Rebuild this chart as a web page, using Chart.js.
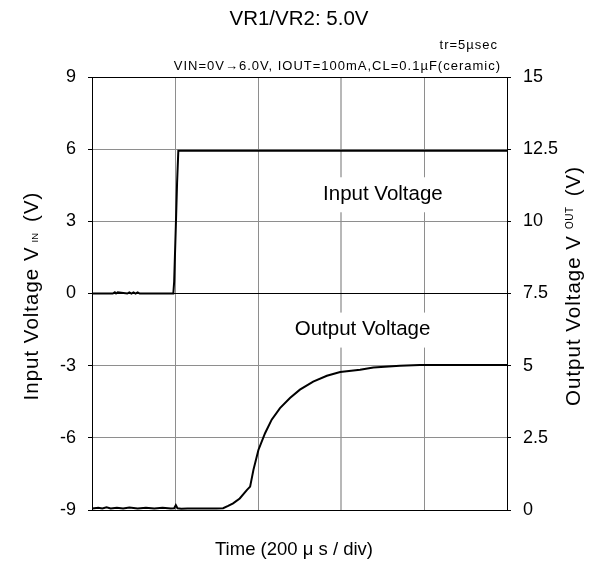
<!DOCTYPE html>
<html>
<head>
<meta charset="utf-8">
<script src="https://cdn.jsdelivr.net/npm/chart.js@4.4.1/dist/chart.umd.min.js"></script>
<style>
    body { margin: 0; background: #fff; }
    #wrap { width: 602px; height: 563px; position: relative; }
</style>
</head>
<body>
<div id="wrap"><canvas id="myChart"></canvas></div>
<script>
// time in microseconds, 200 us per division
const inputTime = [0, 50, 55, 58, 62, 85, 90, 95, 100, 105, 110, 115, 122, 196, 198, 202, 205, 208, 300, 500, 700, 1000];
const inputVolt = [0, 0, 0.05, 0, 0.05, 0, 0.05, 0, 0.05, 0, 0.05, 0, 0, 0, 0.5, 2.8, 4.6, 5.93, 5.93, 5.93, 5.93, 5.93];

const outputTime = [0, 15, 25, 35, 45, 60, 75, 90, 110, 130, 150, 170, 190, 198, 202, 206, 215, 230, 300, 316, 328, 340, 356, 373, 381, 389, 401, 417, 433, 453, 477, 501, 533, 566, 598, 646, 678, 742, 790, 850, 1000];
const outputVolt = [0.05, 0.08, 0.05, 0.09, 0.05, 0.08, 0.05, 0.09, 0.05, 0.08, 0.05, 0.08, 0.05, 0.06, 0.17, 0.06, 0.04, 0.05, 0.05, 0.06, 0.14, 0.23, 0.4, 0.69, 0.81, 1.39, 2.08, 2.66, 3.13, 3.53, 3.88, 4.17, 4.45, 4.65, 4.78, 4.86, 4.94, 5.0, 5.02, 5.02, 5.02];

const leftTicks = [-9, 9, 3];     // min, max, step (V IN)
const rightTicks = [0, 15, 2.5];  // min, max, step (V OUT)
const timeTicks = [0, 1000, 200];

const FONT = '"Liberation Sans", Arial, sans-serif';

function toPoints(xs, ys) {
    return xs.map((x, i) => ({ x: x, y: ys[i] }));
}

// draws a rotated string made of pieces with different sizes
function drawPieces(ctx, pieces, cx, cy) {
    ctx.save();
    ctx.translate(cx, cy);
    ctx.rotate(-Math.PI / 2);
    let total = 0;
    pieces.forEach(p => {
        ctx.font = p.size + 'px ' + FONT;
        ctx.letterSpacing = (p.ls || 0) + 'px';
        p.w = p.text ? ctx.measureText(p.text).width : p.gap;
        total += p.w;
    });
    let x = -total / 2;
    ctx.textAlign = 'left';
    ctx.textBaseline = 'alphabetic';
    pieces.forEach(p => {
        if (p.text) {
            ctx.font = p.size + 'px ' + FONT;
            ctx.letterSpacing = (p.ls || 0) + 'px';
            ctx.fillText(p.text, x, p.dy || 0);
        }
        x += p.w;
    });
    ctx.restore();
}

function boxedText(ctx, text, x, y) {
    const w = ctx.measureText(text).width;
    ctx.fillStyle = '#fff';
    ctx.fillRect(x - w / 2 - 4, y - 17, w + 8, 35);
    ctx.fillStyle = '#000';
    ctx.fillText(text, x, y);
}

const textPlugin = {
    id: 'texts',
    afterDraw(chart) {
        const ctx = chart.ctx;
        const area = chart.chartArea;
        const xs = chart.scales.x;
        const ys = chart.scales.y;
        ctx.save();
        // top frame line
        ctx.strokeStyle = '#000';
        ctx.lineWidth = 1;
        ctx.beginPath();
        ctx.moveTo(area.left, area.top + 0.5);
        ctx.lineTo(area.right, area.top + 0.5);
        ctx.stroke();

        ctx.fillStyle = '#000';
        ctx.textAlign = 'center';
        ctx.textBaseline = 'middle';
        ctx.font = '20.5px ' + FONT;
        ctx.fillText('VR1/VR2: 5.0V', 299, 19);

        ctx.textAlign = 'right';
        ctx.font = '13px ' + FONT;
        ctx.letterSpacing = '1px';
        ctx.fillText('tr=5µsec', 498, 45);
        ctx.fillText('VIN=0V→6.0V, IOUT=100mA,CL=0.1µF(ceramic)', 501, 66);
        ctx.letterSpacing = '0px';

        ctx.textAlign = 'center';
        ctx.font = '20.5px ' + FONT;
        boxedText(ctx, 'Input Voltage', xs.getPixelForValue(701), ys.getPixelForValue(4.125));
        boxedText(ctx, 'Output Voltage', xs.getPixelForValue(652), ys.getPixelForValue(-1.5));

        ctx.font = '18.5px ' + FONT;
        ctx.fillText('Time (200 μ s / div)', 294, 550);

        drawPieces(ctx, [
            { text: 'Input Voltage V', size: 20.5, ls: 1 },
            { gap: 4 },
            { text: 'IN', size: 9.5 },
            { gap: 11 },
            { text: '(V)', size: 20.5, ls: 1 }
        ], 38, 296);

        drawPieces(ctx, [
            { text: 'Output Voltage V', size: 20.5, ls: 1 },
            { gap: 6 },
            { text: 'OUT', size: 10, ls: 0.5, dy: -7 },
            { gap: 10 },
            { text: '(V)', size: 20.5, ls: 1 }
        ], 580, 286);
        ctx.restore();
    }
};

const ctx = document.getElementById('myChart').getContext('2d');
const chart = new Chart(ctx, {
    type: 'line',
    data: {
        datasets: [
            {
                label: 'Input Voltage',
                data: toPoints(inputTime, inputVolt),
                yAxisID: 'y',
                borderColor: '#000',
                borderWidth: 2,
                pointRadius: 0,
                tension: 0,
                fill: false
            },
            {
                label: 'Output Voltage',
                data: toPoints(outputTime, outputVolt),
                yAxisID: 'y2',
                borderColor: '#000',
                borderWidth: 2,
                pointRadius: 0,
                tension: 0,
                fill: false
            }
        ]
    },
    options: {
        responsive: true,
        maintainAspectRatio: false,
        animation: false,
        layout: { padding: { top: 77, left: 0, right: 0, bottom: 0 } },
        plugins: {
            legend: { display: false },
            title: { display: false },
            tooltip: { enabled: false }
        },
        scales: {
            x: {
                type: 'linear',
                min: timeTicks[0],
                max: timeTicks[1],
                ticks: { display: false, stepSize: timeTicks[2] },
                grid: {
                    color: c => c.tick && c.tick.value === 600 ? '#b8b8b8' : '#8e8e8e',
                    lineWidth: c => c.tick && c.tick.value === 600 ? 2 : 1,
                    drawTicks: false
                },
                border: { color: '#000', width: 1 },
                afterFit(scale) { scale.height = 53; }
            },
            y: {
                position: 'left',
                min: leftTicks[0],
                max: leftTicks[1],
                ticks: {
                    stepSize: leftTicks[2],
                    color: '#000',
                    padding: 12,
                    font: { family: FONT, size: 18 }
                },
                grid: {
                    color: c => c.tick && c.tick.value === 0 ? '#000' : '#8e8e8e',
                    tickColor: '#000',
                    tickLength: 4
                },
                border: { color: '#000', width: 1 },
                afterFit(scale) { scale.width = 92; }
            },
            y2: {
                position: 'right',
                min: rightTicks[0],
                max: rightTicks[1],
                ticks: {
                    stepSize: rightTicks[2],
                    color: '#000',
                    padding: 12,
                    font: { family: FONT, size: 18 }
                },
                grid: { drawOnChartArea: false, tickColor: '#000', tickLength: 4 },
                border: { color: '#000', width: 1 },
                afterFit(scale) { scale.width = 95; }
            }
        }
    },
    plugins: [textPlugin]
});
</script>
</body>
</html>
